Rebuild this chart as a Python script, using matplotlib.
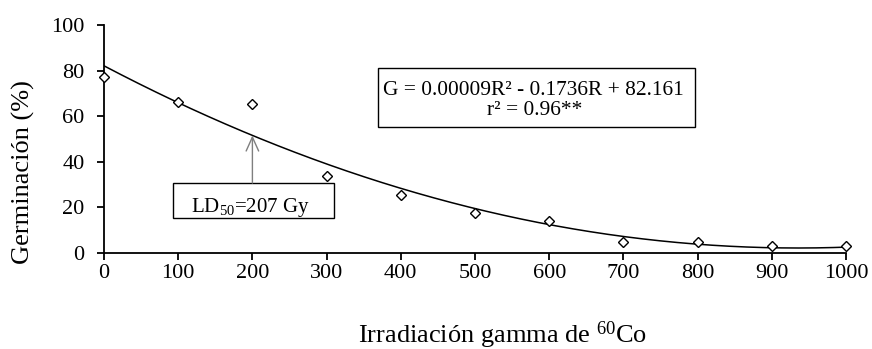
import numpy as np
import matplotlib
matplotlib.use("Agg")
import matplotlib.pyplot as plt
from matplotlib.patches import Rectangle

plt.rcParams["font.family"] = ["Liberation Serif", "DejaVu Serif"]
plt.rcParams["mathtext.fontset"] = "custom"
plt.rcParams["mathtext.rm"] = "Liberation Serif"
plt.rcParams["mathtext.it"] = "Liberation Serif:italic"

# dose (Gy) and germination (%)
dose = [0, 100, 200, 300, 400, 500, 600, 700, 800, 900, 1000]
germination = [77.0, 66.3, 65.2, 33.7, 25.5, 17.3, 13.9, 4.6, 4.7, 2.9, 2.8]
x_ticks = [0, 100, 200, 300, 400, 500, 600, 700, 800, 900, 1000]
y_ticks = [0, 20, 40, 60, 80, 100]
ld50_dose = 200

fig = plt.figure(figsize=(8.72, 3.49), dpi=100)
ax = fig.add_axes([104 / 872, 1 - 252.7 / 349, 742 / 872, 227.7 / 349])

# quadratic trend line fitted to the points
coef = np.polyfit(dose, germination, 2)
xs = np.linspace(0, 1000, 300)
ax.plot(xs, np.polyval(coef, xs), color="black", linewidth=1.1)
ax.plot(dose, germination, linestyle="none", marker="D", markersize=5.3,
        markerfacecolor="white", markeredgecolor="black", markeredgewidth=1.0,
        zorder=3, clip_on=False)

ax.set_xlim(0, 1000)
ax.set_ylim(0, 100)
ax.set_xticks(x_ticks)
ax.set_yticks(y_ticks)
ax.spines["top"].set_visible(False)
ax.spines["right"].set_visible(False)
ax.spines["left"].set_linewidth(1.3)
ax.spines["bottom"].set_linewidth(1.3)
ax.tick_params(axis="both", labelsize=16, width=1.3, length=5, direction="out")
ax.tick_params(axis="y", pad=9)
ax.tick_params(axis="x", pad=3)

# equation box
ax.add_patch(Rectangle((0.369, 0.552), 0.427, 0.259, transform=ax.transAxes,
                       facecolor="white", edgecolor="black", linewidth=1.0))
ax.text(0.578, 0.6926, "G = 0.00009R² - 0.1736R + 82.161", transform=ax.transAxes,
        ha="center", va="baseline", fontsize=15.4)
ax.text(0.581, 0.605, "r² = 0.96**", transform=ax.transAxes,
        ha="center", va="baseline", fontsize=15.4)

# LD50 box and arrow
ax.add_patch(Rectangle((0.093, 0.151), 0.217, 0.155, transform=ax.transAxes,
                       facecolor="white", edgecolor="black", linewidth=1.0))
ax.text(0.197, 0.179, r"LD$_{50}$=207 Gy", transform=ax.transAxes,
        ha="center", va="baseline", fontsize=15)
ax.annotate("", xy=(ld50_dose, np.polyval(coef, ld50_dose)), xytext=(ld50_dose, 30.6),
            arrowprops=dict(arrowstyle="->,head_length=1.0,head_width=0.45",
                            color="#7f7f7f", linewidth=1.0, shrinkA=0, shrinkB=0))

fig.text(23 / 872, 1 - 172 / 349, "Germinación (%)", rotation=90,
         ha="center", va="center", fontsize=19)
fig.text(503 / 872, 1 - 335 / 349, r"Irradiación gamma de $^{60}$Co",
         ha="center", va="center", fontsize=19)

fig.savefig("out.png", dpi=100)
